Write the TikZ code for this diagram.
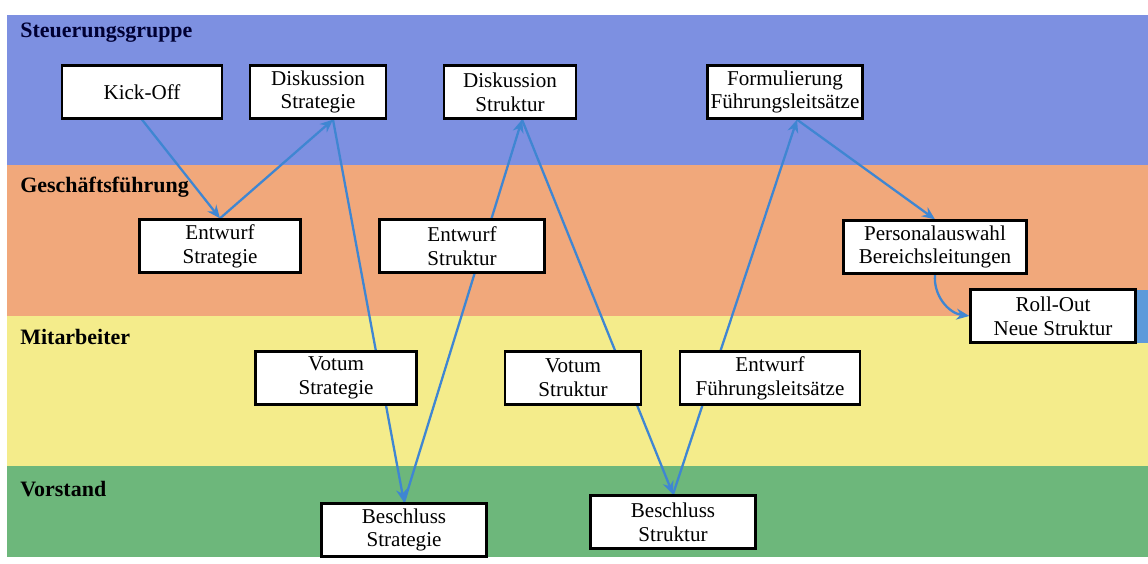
\documentclass[tikz,border=0pt]{standalone}
\usepackage{fontspec}
\setmainfont{Liberation Serif}
\usetikzlibrary{arrows.meta}

\definecolor{laneblue}{HTML}{7D90E1}
\definecolor{laneorange}{HTML}{F1A87B}
\definecolor{laneyellow}{HTML}{F4EC8B}
\definecolor{lanegreen}{HTML}{6DB77B}
\definecolor{flowblue}{HTML}{3F86D2}
\definecolor{stubblue}{HTML}{5E9ADA}

\pgfdeclarelayer{lanes}
\pgfdeclarelayer{flows}
\pgfsetlayers{lanes,flows,main}

\tikzset{
  box/.style={draw=black, fill=white, line width=1.3pt, align=center,
    minimum height=10.6mm, inner sep=1pt,
    font=\fontsize{12}{13.6}\selectfont},
  lanelabel/.style={anchor=west, inner sep=0pt,
    font=\fontsize{12.5}{14}\selectfont\bfseries},
  flow/.style={draw=flowblue, line width=1.3pt,
    -{Stealth[length=2.6mm,width=2.2mm]}}
}

\begin{document}
\begin{tikzpicture}[x=0.2mm,y=-0.2mm]
\useasboundingbox (0,0) rectangle (1148,564);

% Lanes
\begin{pgfonlayer}{lanes}
\fill[laneblue] (7,15) rectangle (1148,165);
\fill[laneorange] (7,165) rectangle (1148,316);
\fill[laneyellow] (7,316) rectangle (1148,466);
\fill[lanegreen] (7,466) rectangle (1148,557);
\fill[stubblue] (1136,290) rectangle (1148,343);
\end{pgfonlayer}

\node[lanelabel, text=black!80!blue] (lsteuer) at (20,33) {Steuerungsgruppe};
\node[lanelabel] (lgf) at (20,187) {Geschäftsführung};
\node[lanelabel] (lmit) at (20,337) {Mitarbeiter};
\node[lanelabel] (lvor) at (20,489) {Vorstand};

% Steuerungsgruppe
\node[box, minimum width=32mm] (kickoff) at (142,92) {Kick-Off};
\node[box, minimum width=27.2mm] (diskstrat) at (318,92) {Diskussion\\Strategie};
\node[box, minimum width=26.4mm] (diskstrukt) at (510,92) {Diskussion\\Struktur};
\node[box, minimum width=31mm] (formfl) at (785,92) {Formulierung\\Führungsleitsätze};

% Geschaeftsfuehrung
\node[box, minimum width=32.2mm] (entstrat) at (220,246) {Entwurf\\Strategie};
\node[box, minimum width=33mm] (entstrukt) at (462,246) {Entwurf\\Struktur};
\node[box, minimum width=36.6mm] (personal) at (935,247) {Personalauswahl\\Bereichsleitungen};
\node[box, minimum width=33mm] (rollout) at (1053,316) {Roll-Out\\Neue Struktur};

% Mitarbeiter
\node[box, minimum width=32.2mm] (votstrat) at (336,378) {Votum\\Strategie};
\node[box, minimum width=27.2mm] (votstrukt) at (573,378) {Votum\\Struktur};
\node[box, minimum width=36mm] (entfl) at (770,378) {Entwurf\\Führungsleitsätze};

% Vorstand
\node[box, minimum width=33mm] (beschstrat) at (404,530) {Beschluss\\Strategie};
\node[box, minimum width=33mm] (beschstrukt) at (673,522) {Beschluss\\Struktur};

% Flows
\begin{pgfonlayer}{flows}
\draw[flow] (kickoff.south) -- (entstrat.north);
\draw[flow] (entstrat.north) -- ([xshift=3mm]diskstrat.south);
\draw[flow] ([xshift=3mm]diskstrat.south) -- (beschstrat.north);
\draw[flow] (beschstrat.north) -- ([xshift=2.4mm]diskstrukt.south);
\draw[flow] ([xshift=2.4mm]diskstrukt.south) -- (beschstrukt.north);
\draw[flow] (beschstrukt.north) -- ([xshift=2.4mm]formfl.south);
\draw[flow] ([xshift=2.4mm]formfl.south) -- (personal.north);
\draw[flow] (personal.south) to[out=-95,in=172] (rollout.west);
\end{pgfonlayer}
\end{tikzpicture}
\end{document}
